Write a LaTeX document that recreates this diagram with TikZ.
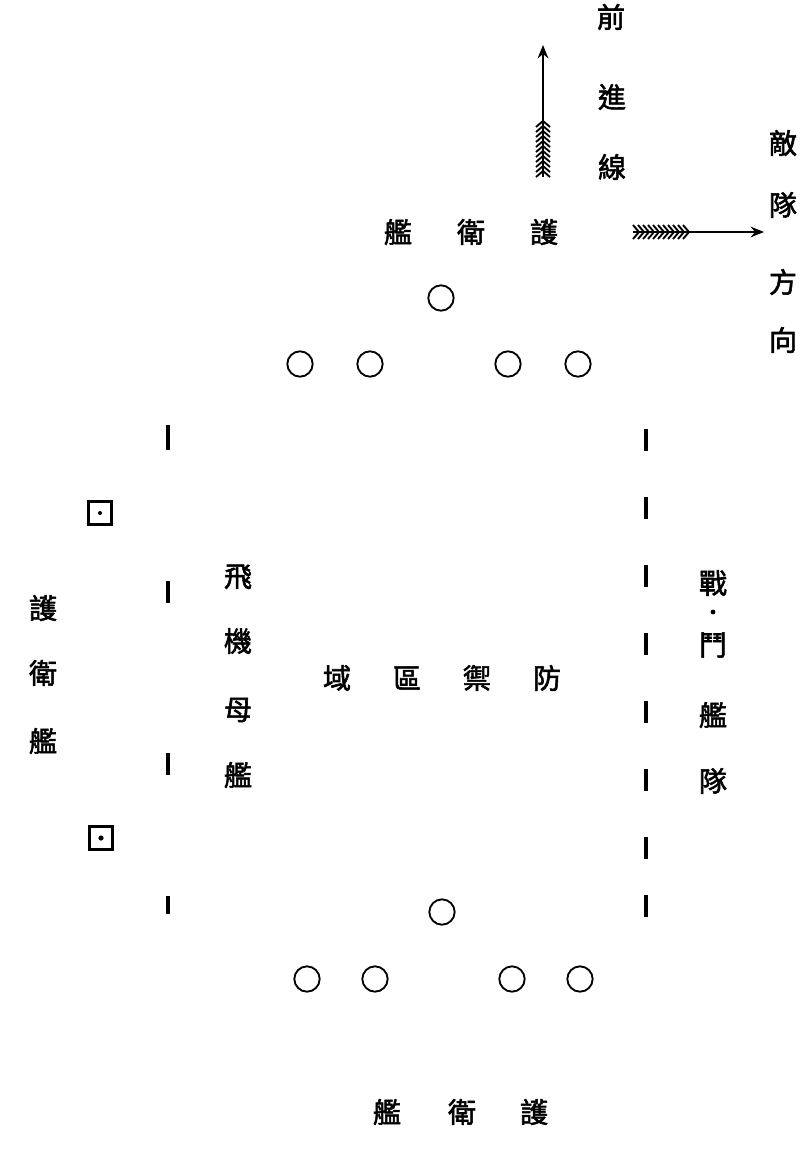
\documentclass[tikz,border=0pt]{standalone}
\usepackage{fontspec}
\newfontfamily\cjk[FakeBold=2]{Noto Sans CJK TC}
\usetikzlibrary{arrows.meta}
\tikzset{every picture/.style={line width=0.75pt}}

\begin{document}
\begin{tikzpicture}[x=0.75pt,y=0.75pt,yscale=-1,xscale=1,
  ship/.style={draw, circle, minimum size=19pt, inner sep=0pt, line width=1.4pt},
  carrier/.style={draw, rectangle, minimum size=17pt, inner sep=0pt, line width=2pt},
  zi/.style={font=\cjk\fontsize{21}{21}\selectfont, inner sep=0pt},
  picket/.style={line width=2.4pt},
  feather/.style={line width=1.4pt},
  course/.style={line width=1.6pt, -{Stealth[length=10pt, width=8pt]}}
  ]
\useasboundingbox (0,0) rectangle (802,1174);

%Direction of advance
\node[zi] (qian) at (611,17) {前};
\node[zi] (jin) at (612,97) {進};
\node[zi] (xian) at (612,167) {線};
\coordinate (advtail) at (543,177);
\coordinate (advhead) at (543,45);
\draw[course] (advtail) -- (advhead);
\foreach \y in {121,126,...,172}
  \draw[feather] (536,\y+6) -- (543,\y) -- (550,\y+6);

%Direction of enemy
\node[zi] (di) at (783,143) {敵};
\node[zi] (dui) at (783,205) {隊};
\node[zi] (fang) at (783,282) {方};
\node[zi] (xiang) at (783,340) {向};
\coordinate (enetail) at (633,232);
\coordinate (enehead) at (764,232);
\draw[course] (enetail) -- (enehead);
\foreach \x in {639,644,...,690}
  \draw[feather] (\x-6,225) -- (\x,232) -- (\x-6,239);

%Escort, front
\node[zi] (fjian) at (398,232) {艦};
\node[zi] (fwei) at (471,232) {衛};
\node[zi] (fhu) at (544,232) {護};
\node[ship] (f0) at (441,298) {};
\node[ship] (f1) at (300,364) {};
\node[ship] (f2) at (370,364) {};
\node[ship] (f3) at (508,364) {};
\node[ship] (f4) at (578,364) {};

%Carrier column
\foreach \y/\l in {437/25,592/22,764/22,905/18}
  \draw[picket] (168,\y-\l/2) -- (168,\y+\l/2);
\node[carrier] (cv1) at (100,513) {};
\node[carrier] (cv2) at (101,838) {};
\fill (cv1.center) circle (2);
\fill (cv2.center) circle (2.6);

%Battle line
\foreach \y in {440,508,576,644,712,780,848,906}
  \draw[picket] (646,\y-11) -- (646,\y+11);

%Escort, flank
\node[zi] (lhu) at (43,608) {護};
\node[zi] (lwei) at (43,673) {衛};
\node[zi] (ljian) at (43,741) {艦};

\node[zi] (fei) at (238,577) {飛};
\node[zi] (ji) at (238,641) {機};
\node[zi] (mu) at (238,710) {母};
\node[zi] (cvjian) at (238,775) {艦};

\node[zi] (yu) at (337,678) {域};
\node[zi] (qu) at (407,678) {區};
\node[zi] (yu2) at (477,678) {禦};
\node[zi] (fang2) at (547,678) {防};

\node[zi] (zhan) at (713,583) {戰};
\fill (713,612) circle (2.4) coordinate (dot);
\node[zi] (dou) at (713,645) {鬥};
\node[zi] (bjian) at (713,715) {艦};
\node[zi] (bdui) at (713,781) {隊};

%Escort, rear
\node[ship] (r0) at (442,912) {};
\node[ship] (r1) at (307,979) {};
\node[ship] (r2) at (375,979) {};
\node[ship] (r3) at (512,979) {};
\node[ship] (r4) at (580,979) {};
\node[zi] (rjian) at (387,1112) {艦};
\node[zi] (rwei) at (462,1112) {衛};
\node[zi] (rhu) at (534,1112) {護};

\end{tikzpicture}
\end{document}
